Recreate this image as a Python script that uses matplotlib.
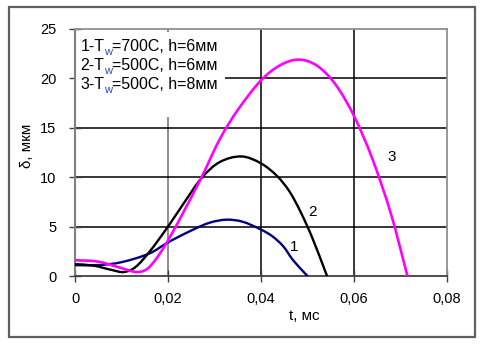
import matplotlib
matplotlib.use("Agg")
import matplotlib.pyplot as plt
from matplotlib.patches import Rectangle, PathPatch
from matplotlib.path import Path

plt.rcParams['font.family'] = ['Liberation Sans', 'DejaVu Sans']

# ---- data ----
t1 = [0.0, 0.005, 0.010, 0.0161, 0.020, 0.025, 0.029, 0.0326, 0.036, 0.040, 0.0425,
      0.0448, 0.0469, 0.0500]
d1 = [1.1, 1.1, 1.4, 2.3, 3.4, 4.6, 5.4, 5.7, 5.5, 4.7, 4.0,
      3.0, 1.6, 0.0]

t2 = [0.0, 0.004, 0.008, 0.0105, 0.013, 0.0161, 0.020, 0.0233, 0.0272, 0.031, 0.0358,
      0.040, 0.0435, 0.0462, 0.0485, 0.051, 0.0542]
d2 = [1.2, 1.05, 0.6, 0.4, 0.9, 2.5, 5.0, 7.3, 9.9, 11.5, 12.1,
      11.4, 10.1, 8.5, 6.5, 3.9, 0.0]

t3 = [0.0, 0.005, 0.010, 0.0135, 0.0161, 0.020, 0.0269, 0.0312, 0.035, 0.040, 0.044,
      0.048, 0.052, 0.056, 0.060, 0.064, 0.068, 0.0715]
d3 = [1.6, 1.45, 0.8, 0.4, 0.95, 3.6, 9.7, 13.9, 16.8, 19.8, 21.3,
      21.9, 21.3, 19.4, 16.2, 11.8, 6.2, 0.0]

xticks = [0, 0.02, 0.04, 0.06, 0.08]
xticklabels = ["0", "0,02", "0,04", "0,06", "0,08"]
yticks = [0, 5, 10, 15, 20, 25]
yticklabels = ["0", "5", "10", "15", "20", "25"]

legend_lines = [("1-T", "w", "=700C, h=6мм"),
                ("2-T", "w", "=500C, h=6мм"),
                ("3-T", "w", "=500C, h=8мм")]
curve_labels = ["1", "2", "3"]
label_t = [0.0471, 0.0510, 0.0682]
label_d = [2.9, 6.5, 12.0]

W, H = 487, 351
fig = plt.figure(figsize=(W / 100, H / 100), dpi=100)
fig.patch.set_facecolor('white')

def px(x, y):
    return x / W, 1 - y / H

# outer frame
fig.patches.append(Rectangle((9 / W, 1 - 336.5 / H), (474.5 - 9) / W, (336.5 - 7) / H,
                             transform=fig.transFigure, fill=False,
                             edgecolor='#606060', lw=1.6, zorder=0))

ax = fig.add_axes([75 / W, (H - 276) / H, (447 - 75) / W, (276 - 29) / H])
ax.set_xlim(0, 0.08)
ax.set_ylim(0, 25)

# grid
for xv, c in [(0.02, '#707070'), (0.04, 'black'), (0.06, 'black')]:
    ax.axvline(xv, color=c, lw=1.1, zorder=1)
for yv in [5, 10, 15, 20]:
    ax.axhline(yv, color='black', lw=1.1, zorder=1)

# white box behind the legend text
ax.add_patch(Rectangle(px(76, 117), (225 - 76) / W, (117 - 32) / H,
                       transform=fig.transFigure, facecolor='white',
                       edgecolor='none', zorder=2))


def smooth_curve(ax, xs, ys, **kw):
    """Smooth line through the points (Catmull-Rom drawn as Bezier segments)."""
    n = len(xs)
    verts = [(xs[0], ys[0])]
    codes = [Path.MOVETO]
    for i in range(n - 1):
        i0 = max(i - 1, 0)
        i3 = min(i + 2, n - 1)
        h = xs[i + 1] - xs[i]
        m1x = (xs[i + 1] - xs[i0]); m1y = (ys[i + 1] - ys[i0])
        m2x = (xs[i3] - xs[i]); m2y = (ys[i3] - ys[i])
        s1 = h / m1x if m1x else 0
        s2 = h / m2x if m2x else 0
        c1 = (xs[i] + m1x * s1 / 3, ys[i] + m1y * s1 / 3)
        c2 = (xs[i + 1] - m2x * s2 / 3, ys[i + 1] - m2y * s2 / 3)
        verts += [c1, c2, (xs[i + 1], ys[i + 1])]
        codes += [Path.CURVE4] * 3
    patch = PathPatch(Path(verts, codes), fill=False, capstyle='round',
                      joinstyle='round', **kw)
    ax.add_patch(patch)


smooth_curve(ax, t1, d1, edgecolor='#000080', lw=1.7, zorder=3)
smooth_curve(ax, t2, d2, edgecolor='black', lw=1.7, zorder=3)
smooth_curve(ax, t3, d3, edgecolor='#ff00ff', lw=1.9, zorder=3)

for lab, x, y in zip(curve_labels, label_t, label_d):
    ax.text(x, y, lab, fontsize=11, ha='center', va='center', zorder=4)

ax.set_xticks(xticks)
ax.set_xticklabels(xticklabels)
ax.set_yticks(yticks)
ax.set_yticklabels(yticklabels)
ax.tick_params(axis='both', direction='inout', length=9, width=1,
               color='#404040', labelsize=10.5)
ax.tick_params(axis='x', pad=7)
ax.tick_params(axis='y', pad=9)

for s in ['top', 'right']:
    ax.spines[s].set_color('#909090')
    ax.spines[s].set_linewidth(1.3)
ax.spines['left'].set_color('#808080')
ax.spines['left'].set_linewidth(1.5)
ax.spines['bottom'].set_color('#404040')
ax.spines['bottom'].set_linewidth(1.3)

fig.text(*px(304, 316), "t, мс", fontsize=11, ha='center', va='center')
fig.text(*px(27, 146), "δ, мкм", fontsize=11, ha='center', va='center',
         rotation=90)

# legend text with blue subscript
fig.canvas.draw()
renderer = fig.canvas.get_renderer()
baselines = [50.8, 70.0, 89.3]
for (a, sub, b), yb in zip(legend_lines, baselines):
    x0 = 80.5
    t = fig.text(*px(x0, yb), a, fontsize=11.5, ha='left', va='baseline', zorder=5)
    bb = t.get_window_extent(renderer)
    x0 = bb.x1
    t = fig.text(x0 / W, 1 - (yb + 4) / H, sub, fontsize=8, ha='left',
                 va='baseline', color='#1f4fbf', zorder=5)
    bb = t.get_window_extent(renderer)
    x0 = bb.x1
    fig.text(x0 / W, 1 - yb / H, b, fontsize=11.5, ha='left', va='baseline', zorder=5)

fig.savefig("out.png", dpi=100, facecolor='white')
